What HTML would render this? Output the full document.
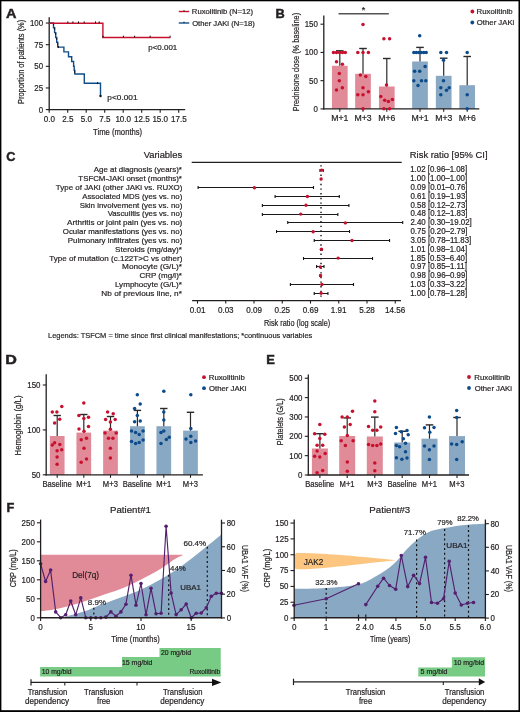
<!DOCTYPE html>
<html><head><meta charset="utf-8"><style>
html,body{margin:0;padding:0;background:#fff;width:520px;height:712px;overflow:hidden}
svg{display:block;will-change:transform}
text{font-family:"Liberation Sans",sans-serif;fill:#231f20;stroke:#231f20;stroke-width:0.2px}
</style></head><body>
<svg width="520" height="712" viewBox="0 0 520 712">
<rect width="520" height="712" fill="#fff"/>
<text x="6.14" y="17.80" textLength="10.46" lengthAdjust="spacingAndGlyphs" font-size="13.30" font-weight="bold" style="stroke-width:0.45px">A</text>
<line x1="49.20" y1="17.20" x2="49.20" y2="110.20" stroke="#231f20" stroke-width="1.3" />
<line x1="48.60" y1="109.60" x2="185.20" y2="109.60" stroke="#231f20" stroke-width="1.3" />
<line x1="45.80" y1="109.60" x2="49.20" y2="109.60" stroke="#231f20" stroke-width="1.1" />
<text x="38.69" y="112.50" textLength="4.40" lengthAdjust="spacingAndGlyphs" font-size="8.50">0</text>
<line x1="45.80" y1="87.96" x2="49.20" y2="87.96" stroke="#231f20" stroke-width="1.1" />
<text x="34.34" y="90.86" textLength="8.79" lengthAdjust="spacingAndGlyphs" font-size="8.50">25</text>
<line x1="45.80" y1="66.32" x2="49.20" y2="66.32" stroke="#231f20" stroke-width="1.1" />
<text x="34.30" y="69.22" textLength="8.79" lengthAdjust="spacingAndGlyphs" font-size="8.50">50</text>
<line x1="45.80" y1="44.68" x2="49.20" y2="44.68" stroke="#231f20" stroke-width="1.1" />
<text x="34.34" y="47.58" textLength="8.79" lengthAdjust="spacingAndGlyphs" font-size="8.50">75</text>
<line x1="45.80" y1="23.04" x2="49.20" y2="23.04" stroke="#231f20" stroke-width="1.1" />
<text x="29.91" y="25.94" textLength="13.19" lengthAdjust="spacingAndGlyphs" font-size="8.50">100</text>
<line x1="49.20" y1="109.60" x2="49.20" y2="112.80" stroke="#231f20" stroke-width="1.1" />
<text x="43.77" y="121.90" textLength="11.23" lengthAdjust="spacingAndGlyphs" font-size="8.50">0.0</text>
<line x1="67.70" y1="109.60" x2="67.70" y2="112.80" stroke="#231f20" stroke-width="1.1" />
<text x="62.25" y="121.90" textLength="11.23" lengthAdjust="spacingAndGlyphs" font-size="8.50">2.5</text>
<line x1="86.20" y1="109.60" x2="86.20" y2="112.80" stroke="#231f20" stroke-width="1.1" />
<text x="80.77" y="121.90" textLength="11.23" lengthAdjust="spacingAndGlyphs" font-size="8.50">5.0</text>
<line x1="104.70" y1="109.60" x2="104.70" y2="112.80" stroke="#231f20" stroke-width="1.1" />
<text x="99.25" y="121.90" textLength="11.23" lengthAdjust="spacingAndGlyphs" font-size="8.50">7.5</text>
<line x1="123.20" y1="109.60" x2="123.20" y2="112.80" stroke="#231f20" stroke-width="1.1" />
<text x="115.39" y="121.90" textLength="15.72" lengthAdjust="spacingAndGlyphs" font-size="8.50">10.0</text>
<line x1="141.70" y1="109.60" x2="141.70" y2="112.80" stroke="#231f20" stroke-width="1.1" />
<text x="133.91" y="121.90" textLength="15.72" lengthAdjust="spacingAndGlyphs" font-size="8.50">12.5</text>
<line x1="160.20" y1="109.60" x2="160.20" y2="112.80" stroke="#231f20" stroke-width="1.1" />
<text x="152.39" y="121.90" textLength="15.72" lengthAdjust="spacingAndGlyphs" font-size="8.50">15.0</text>
<line x1="178.70" y1="109.60" x2="178.70" y2="112.80" stroke="#231f20" stroke-width="1.1" />
<text x="170.91" y="121.90" textLength="15.72" lengthAdjust="spacingAndGlyphs" font-size="8.50">17.5</text>
<text x="93.05" y="134.80" textLength="49.14" lengthAdjust="spacingAndGlyphs" font-size="9.00">Time (months)</text>
<text transform="translate(24.20,103.40) rotate(-90)" x="-0.59" y="0" textLength="84.17" lengthAdjust="spacingAndGlyphs" font-size="8.80">Proportion of patients (%)</text>
<path d="M49.2,23.0 H53.5 V27.8 H54.6 V32.6 H55.7 V37.5 H56.7 V42.3 H57.7 V47.1 H63.9 V51.9 H68.5 V56.7 H71.7 V61.5 H73.6 V66.3 H74.2 V70.2 H74.8 V74.0 H84.3 V83.3 H100.5 V96.2" stroke="#0f4e88" fill="none" stroke-width="1.4" />
<line x1="53.50" y1="23.30" x2="53.50" y2="25.30" stroke="#111" stroke-width="1.0" />
<line x1="54.60" y1="27.80" x2="54.60" y2="29.80" stroke="#111" stroke-width="1.0" />
<line x1="55.70" y1="32.80" x2="55.70" y2="34.80" stroke="#111" stroke-width="1.0" />
<line x1="56.70" y1="37.80" x2="56.70" y2="39.80" stroke="#111" stroke-width="1.0" />
<line x1="57.70" y1="42.80" x2="57.70" y2="44.80" stroke="#111" stroke-width="1.0" />
<line x1="58.50" y1="45.90" x2="58.50" y2="47.90" stroke="#111" stroke-width="1.0" />
<line x1="97.60" y1="82.10" x2="97.60" y2="84.10" stroke="#111" stroke-width="1.0" />
<line x1="74.60" y1="70.80" x2="74.60" y2="72.80" stroke="#111" stroke-width="1.0" />
<circle cx="100.50" cy="96.00" r="1.2" fill="#111"/>
<path d="M49.2,23.2 H102.9 V37.5 H170.4" stroke="#c8102e" fill="none" stroke-width="1.4" />
<line x1="102.90" y1="35.80" x2="102.90" y2="37.60" stroke="#111" stroke-width="1.2" />
<line x1="67.80" y1="21.40" x2="67.80" y2="23.20" stroke="#111" stroke-width="1.0" />
<line x1="72.90" y1="21.40" x2="72.90" y2="23.20" stroke="#111" stroke-width="1.0" />
<line x1="78.50" y1="21.40" x2="78.50" y2="23.20" stroke="#111" stroke-width="1.0" />
<line x1="84.20" y1="21.40" x2="84.20" y2="23.20" stroke="#111" stroke-width="1.0" />
<line x1="95.50" y1="21.40" x2="95.50" y2="23.20" stroke="#111" stroke-width="1.0" />
<line x1="99.20" y1="21.40" x2="99.20" y2="23.20" stroke="#111" stroke-width="1.0" />
<line x1="123.40" y1="35.70" x2="123.40" y2="37.50" stroke="#111" stroke-width="1.0" />
<line x1="134.60" y1="35.70" x2="134.60" y2="37.50" stroke="#111" stroke-width="1.0" />
<line x1="150.20" y1="35.70" x2="150.20" y2="37.50" stroke="#111" stroke-width="1.0" />
<line x1="170.10" y1="35.70" x2="170.10" y2="37.50" stroke="#111" stroke-width="1.0" />
<text x="148.28" y="50.00" textLength="29.00" lengthAdjust="spacingAndGlyphs" font-size="7.60">p&lt;0.001</text>
<text x="107.36" y="100.00" textLength="30.13" lengthAdjust="spacingAndGlyphs" font-size="7.60">p&lt;0.001</text>
<line x1="178.75" y1="11.50" x2="189.25" y2="11.50" stroke="#c8102e" stroke-width="1.4" />
<line x1="184.00" y1="10.20" x2="184.00" y2="11.50" stroke="#111" stroke-width="1.0" />
<text x="191.89" y="13.80" textLength="61.08" lengthAdjust="spacingAndGlyphs" font-size="7.50">Ruxolitinib (N=12)</text>
<line x1="178.75" y1="23.00" x2="189.25" y2="23.00" stroke="#0f4e88" stroke-width="1.4" />
<line x1="184.00" y1="21.70" x2="184.00" y2="23.00" stroke="#111" stroke-width="1.0" />
<text x="192.16" y="25.50" textLength="62.57" lengthAdjust="spacingAndGlyphs" font-size="7.50">Other JAKi (N=18)</text>
<text x="275.47" y="17.90" textLength="9.23" lengthAdjust="spacingAndGlyphs" font-size="12.60" font-weight="bold" style="stroke-width:0.45px">B</text>
<rect x="331.95" y="65.80" width="15.7" height="43.00" fill="#e18a98"/>
<rect x="355.15" y="73.80" width="15.7" height="35.00" fill="#e18a98"/>
<rect x="378.95" y="86.50" width="15.7" height="22.30" fill="#e18a98"/>
<rect x="412.15" y="61.50" width="15.7" height="47.30" fill="#89a8c3"/>
<rect x="435.85" y="75.80" width="15.7" height="33.00" fill="#89a8c3"/>
<rect x="459.35" y="85.20" width="15.7" height="23.60" fill="#89a8c3"/>
<line x1="339.80" y1="65.80" x2="339.80" y2="50.80" stroke="#2a2a2a" stroke-width="1.2" />
<line x1="336.00" y1="50.80" x2="343.60" y2="50.80" stroke="#2a2a2a" stroke-width="1.4" />
<line x1="363.00" y1="73.80" x2="363.00" y2="48.50" stroke="#2a2a2a" stroke-width="1.2" />
<line x1="359.20" y1="48.50" x2="366.80" y2="48.50" stroke="#2a2a2a" stroke-width="1.4" />
<line x1="386.80" y1="86.50" x2="386.80" y2="58.50" stroke="#2a2a2a" stroke-width="1.2" />
<line x1="383.00" y1="58.50" x2="390.60" y2="58.50" stroke="#2a2a2a" stroke-width="1.4" />
<line x1="420.00" y1="61.50" x2="420.00" y2="47.40" stroke="#2a2a2a" stroke-width="1.2" />
<line x1="416.20" y1="47.40" x2="423.80" y2="47.40" stroke="#2a2a2a" stroke-width="1.4" />
<line x1="443.70" y1="75.80" x2="443.70" y2="58.20" stroke="#2a2a2a" stroke-width="1.2" />
<line x1="439.90" y1="58.20" x2="447.50" y2="58.20" stroke="#2a2a2a" stroke-width="1.4" />
<line x1="467.20" y1="85.20" x2="467.20" y2="56.50" stroke="#2a2a2a" stroke-width="1.2" />
<line x1="463.40" y1="56.50" x2="471.00" y2="56.50" stroke="#2a2a2a" stroke-width="1.4" />
<line x1="323.80" y1="15.40" x2="323.80" y2="109.50" stroke="#231f20" stroke-width="1.3" />
<line x1="323.10" y1="108.80" x2="479.30" y2="108.80" stroke="#231f20" stroke-width="1.3" />
<line x1="320.50" y1="108.90" x2="323.80" y2="108.90" stroke="#231f20" stroke-width="1.1" />
<text x="313.49" y="111.80" textLength="4.40" lengthAdjust="spacingAndGlyphs" font-size="8.50">0</text>
<line x1="320.50" y1="80.67" x2="323.80" y2="80.67" stroke="#231f20" stroke-width="1.1" />
<text x="309.10" y="83.57" textLength="8.79" lengthAdjust="spacingAndGlyphs" font-size="8.50">50</text>
<line x1="320.50" y1="52.43" x2="323.80" y2="52.43" stroke="#231f20" stroke-width="1.1" />
<text x="304.71" y="55.33" textLength="13.19" lengthAdjust="spacingAndGlyphs" font-size="8.50">100</text>
<line x1="320.50" y1="24.20" x2="323.80" y2="24.20" stroke="#231f20" stroke-width="1.1" />
<text x="304.71" y="27.10" textLength="13.19" lengthAdjust="spacingAndGlyphs" font-size="8.50">150</text>
<line x1="339.80" y1="108.80" x2="339.80" y2="111.80" stroke="#231f20" stroke-width="1.1" />
<text x="331.25" y="121.00" textLength="17.22" lengthAdjust="spacingAndGlyphs" font-size="8.20">M+1</text>
<line x1="363.00" y1="108.80" x2="363.00" y2="111.80" stroke="#231f20" stroke-width="1.1" />
<text x="354.45" y="121.00" textLength="17.17" lengthAdjust="spacingAndGlyphs" font-size="8.20">M+3</text>
<line x1="386.80" y1="108.80" x2="386.80" y2="111.80" stroke="#231f20" stroke-width="1.1" />
<text x="378.25" y="121.00" textLength="17.17" lengthAdjust="spacingAndGlyphs" font-size="8.20">M+6</text>
<line x1="420.00" y1="108.80" x2="420.00" y2="111.80" stroke="#231f20" stroke-width="1.1" />
<text x="411.45" y="121.00" textLength="17.22" lengthAdjust="spacingAndGlyphs" font-size="8.20">M+1</text>
<line x1="443.70" y1="108.80" x2="443.70" y2="111.80" stroke="#231f20" stroke-width="1.1" />
<text x="435.15" y="121.00" textLength="17.17" lengthAdjust="spacingAndGlyphs" font-size="8.20">M+3</text>
<line x1="467.20" y1="108.80" x2="467.20" y2="111.80" stroke="#231f20" stroke-width="1.1" />
<text x="458.65" y="121.00" textLength="17.17" lengthAdjust="spacingAndGlyphs" font-size="8.20">M+6</text>
<text transform="translate(299.00,110.70) rotate(-90)" x="-0.59" y="0" textLength="98.45" lengthAdjust="spacingAndGlyphs" font-size="8.90">Prednisone dose (% baseline)</text>
<line x1="338.50" y1="13.80" x2="388.80" y2="13.80" stroke="#555" stroke-width="1.6" />
<text x="361.75" y="12.60" textLength="3.50" lengthAdjust="spacingAndGlyphs" font-size="9.00">*</text>
<circle cx="333.50" cy="52.60" r="1.75" fill="#c8102e"/>
<circle cx="336.50" cy="52.60" r="1.75" fill="#c8102e"/>
<circle cx="339.50" cy="52.60" r="1.75" fill="#c8102e"/>
<circle cx="342.50" cy="52.60" r="1.75" fill="#c8102e"/>
<circle cx="345.30" cy="52.60" r="1.75" fill="#c8102e"/>
<circle cx="336.50" cy="61.80" r="1.75" fill="#c8102e"/>
<circle cx="342.40" cy="64.20" r="1.75" fill="#c8102e"/>
<circle cx="339.30" cy="73.50" r="1.75" fill="#c8102e"/>
<circle cx="339.30" cy="80.80" r="1.75" fill="#c8102e"/>
<circle cx="342.40" cy="87.70" r="1.75" fill="#c8102e"/>
<circle cx="336.50" cy="90.00" r="1.75" fill="#c8102e"/>
<circle cx="363.00" cy="24.60" r="1.75" fill="#c8102e"/>
<circle cx="357.80" cy="52.60" r="1.75" fill="#c8102e"/>
<circle cx="363.00" cy="52.60" r="1.75" fill="#c8102e"/>
<circle cx="368.40" cy="52.60" r="1.75" fill="#c8102e"/>
<circle cx="360.40" cy="75.10" r="1.75" fill="#c8102e"/>
<circle cx="365.80" cy="76.60" r="1.75" fill="#c8102e"/>
<circle cx="363.00" cy="87.70" r="1.75" fill="#c8102e"/>
<circle cx="357.80" cy="94.80" r="1.75" fill="#c8102e"/>
<circle cx="363.00" cy="94.80" r="1.75" fill="#c8102e"/>
<circle cx="368.40" cy="91.80" r="1.75" fill="#c8102e"/>
<circle cx="363.00" cy="108.80" r="1.75" fill="#c8102e"/>
<circle cx="383.90" cy="38.80" r="1.75" fill="#c8102e"/>
<circle cx="389.60" cy="38.80" r="1.75" fill="#c8102e"/>
<circle cx="386.50" cy="84.90" r="1.75" fill="#c8102e"/>
<circle cx="380.80" cy="96.60" r="1.75" fill="#c8102e"/>
<circle cx="384.70" cy="100.30" r="1.75" fill="#c8102e"/>
<circle cx="388.40" cy="101.50" r="1.75" fill="#c8102e"/>
<circle cx="392.40" cy="99.40" r="1.75" fill="#c8102e"/>
<circle cx="383.90" cy="108.80" r="1.75" fill="#c8102e"/>
<circle cx="389.60" cy="108.80" r="1.75" fill="#c8102e"/>
<circle cx="419.70" cy="35.80" r="1.75" fill="#0b4a8b"/>
<circle cx="413.80" cy="52.60" r="1.75" fill="#0b4a8b"/>
<circle cx="416.30" cy="52.60" r="1.75" fill="#0b4a8b"/>
<circle cx="418.80" cy="52.60" r="1.75" fill="#0b4a8b"/>
<circle cx="421.30" cy="52.60" r="1.75" fill="#0b4a8b"/>
<circle cx="423.80" cy="52.60" r="1.75" fill="#0b4a8b"/>
<circle cx="426.20" cy="52.60" r="1.75" fill="#0b4a8b"/>
<circle cx="425.10" cy="66.50" r="1.75" fill="#0b4a8b"/>
<circle cx="414.60" cy="71.20" r="1.75" fill="#0b4a8b"/>
<circle cx="419.70" cy="71.20" r="1.75" fill="#0b4a8b"/>
<circle cx="413.80" cy="80.80" r="1.75" fill="#0b4a8b"/>
<circle cx="421.50" cy="80.80" r="1.75" fill="#0b4a8b"/>
<circle cx="425.80" cy="80.80" r="1.75" fill="#0b4a8b"/>
<circle cx="418.00" cy="85.40" r="1.75" fill="#0b4a8b"/>
<circle cx="440.80" cy="52.60" r="1.75" fill="#0b4a8b"/>
<circle cx="446.50" cy="52.60" r="1.75" fill="#0b4a8b"/>
<circle cx="443.50" cy="60.30" r="1.75" fill="#0b4a8b"/>
<circle cx="443.50" cy="80.80" r="1.75" fill="#0b4a8b"/>
<circle cx="440.80" cy="87.70" r="1.75" fill="#0b4a8b"/>
<circle cx="449.20" cy="87.70" r="1.75" fill="#0b4a8b"/>
<circle cx="446.50" cy="90.20" r="1.75" fill="#0b4a8b"/>
<circle cx="440.80" cy="94.80" r="1.75" fill="#0b4a8b"/>
<circle cx="467.20" cy="52.60" r="1.75" fill="#0b4a8b"/>
<circle cx="467.20" cy="94.80" r="1.75" fill="#0b4a8b"/>
<circle cx="467.20" cy="108.80" r="1.75" fill="#0b4a8b"/>
<circle cx="472.40" cy="11.50" r="1.9" fill="#c8102e"/>
<text x="476.58" y="14.00" textLength="35.96" lengthAdjust="spacingAndGlyphs" font-size="7.40">Ruxolitinib</text>
<circle cx="472.30" cy="22.50" r="1.9" fill="#0b4a8b"/>
<text x="476.85" y="24.80" textLength="37.45" lengthAdjust="spacingAndGlyphs" font-size="7.40">Other JAKi</text>
<text x="6.19" y="160.80" textLength="9.15" lengthAdjust="spacingAndGlyphs" font-size="12.90" font-weight="bold" style="stroke-width:0.45px">C</text>
<text x="143.65" y="158.30" textLength="38.48" lengthAdjust="spacingAndGlyphs" font-size="9.60">Variables</text>
<line x1="191.70" y1="162.30" x2="401.70" y2="162.30" stroke="#231f20" stroke-width="1.3" />
<line x1="321.00" y1="165.20" x2="321.00" y2="300.00" stroke="#111" stroke-width="1.4" stroke-dasharray="1.4,3.25"/>
<text x="93.80" y="172.30" textLength="88.10" lengthAdjust="spacingAndGlyphs" font-size="8.00">Age at diagnosis (years)*</text>
<line x1="319.97" y1="170.50" x2="323.23" y2="170.50" stroke="#1a1a1a" stroke-width="1.0" />
<line x1="319.97" y1="169.00" x2="319.97" y2="172.00" stroke="#111" stroke-width="1.1" />
<line x1="323.23" y1="169.00" x2="323.23" y2="172.00" stroke="#111" stroke-width="1.1" />
<circle cx="321.65" cy="170.10" r="1.7" fill="#c8102e"/>
<text x="410.21" y="172.20" textLength="57.00" lengthAdjust="spacingAndGlyphs" font-size="8.30">1.02 [0.96–1.08]</text>
<text x="78.34" y="181.13" textLength="103.57" lengthAdjust="spacingAndGlyphs" font-size="8.00">TSFCM-JAKi onset (months)*</text>
<circle cx="321.10" cy="178.90" r="1.7" fill="#c8102e"/>
<text x="410.21" y="181.03" textLength="57.00" lengthAdjust="spacingAndGlyphs" font-size="8.30">1.00 [1.00–1.00]</text>
<text x="55.84" y="189.96" textLength="126.47" lengthAdjust="spacingAndGlyphs" font-size="8.00">Type of JAKi (other JAKi vs. RUXO)</text>
<line x1="198.12" y1="187.50" x2="313.50" y2="187.50" stroke="#1a1a1a" stroke-width="1.0" />
<line x1="198.12" y1="186.00" x2="198.12" y2="189.00" stroke="#111" stroke-width="1.1" />
<line x1="313.50" y1="186.00" x2="313.50" y2="189.00" stroke="#111" stroke-width="1.1" />
<circle cx="254.40" cy="187.70" r="1.7" fill="#c8102e"/>
<text x="410.48" y="189.86" textLength="57.00" lengthAdjust="spacingAndGlyphs" font-size="8.30">0.09 [0.01–0.76]</text>
<text x="82.20" y="198.79" textLength="100.09" lengthAdjust="spacingAndGlyphs" font-size="8.00">Associated MDS (yes vs. no)</text>
<line x1="275.10" y1="196.50" x2="339.31" y2="196.50" stroke="#1a1a1a" stroke-width="1.0" />
<line x1="275.10" y1="195.00" x2="275.10" y2="198.00" stroke="#111" stroke-width="1.1" />
<line x1="339.31" y1="195.00" x2="339.31" y2="198.00" stroke="#111" stroke-width="1.1" />
<circle cx="307.41" cy="196.50" r="1.7" fill="#c8102e"/>
<text x="410.48" y="198.69" textLength="57.00" lengthAdjust="spacingAndGlyphs" font-size="8.30">0.61 [0.19–1.93]</text>
<text x="79.64" y="207.62" textLength="102.67" lengthAdjust="spacingAndGlyphs" font-size="8.00">Skin involvement (yes vs. no)</text>
<line x1="262.37" y1="205.50" x2="348.92" y2="205.50" stroke="#1a1a1a" stroke-width="1.0" />
<line x1="262.37" y1="204.00" x2="262.37" y2="207.00" stroke="#111" stroke-width="1.1" />
<line x1="348.92" y1="204.00" x2="348.92" y2="207.00" stroke="#111" stroke-width="1.1" />
<circle cx="306.01" cy="205.30" r="1.7" fill="#c8102e"/>
<text x="410.48" y="207.52" textLength="57.00" lengthAdjust="spacingAndGlyphs" font-size="8.30">0.58 [0.12–2.73]</text>
<text x="107.66" y="216.45" textLength="74.65" lengthAdjust="spacingAndGlyphs" font-size="8.00">Vasculitis (yes vs. no)</text>
<line x1="262.37" y1="214.50" x2="337.84" y2="214.50" stroke="#1a1a1a" stroke-width="1.0" />
<line x1="262.37" y1="213.00" x2="262.37" y2="216.00" stroke="#111" stroke-width="1.1" />
<line x1="337.84" y1="213.00" x2="337.84" y2="216.00" stroke="#111" stroke-width="1.1" />
<circle cx="300.77" cy="214.10" r="1.7" fill="#c8102e"/>
<text x="410.48" y="216.35" textLength="57.00" lengthAdjust="spacingAndGlyphs" font-size="8.30">0.48 [0.12–1.83]</text>
<text x="67.10" y="225.28" textLength="115.21" lengthAdjust="spacingAndGlyphs" font-size="8.00">Arthritis or joint pain (yes vs. no)</text>
<line x1="287.75" y1="222.50" x2="402.69" y2="222.50" stroke="#1a1a1a" stroke-width="1.0" />
<line x1="287.75" y1="221.00" x2="287.75" y2="224.00" stroke="#111" stroke-width="1.1" />
<line x1="402.69" y1="221.00" x2="402.69" y2="224.00" stroke="#111" stroke-width="1.1" />
<circle cx="345.35" cy="222.90" r="1.7" fill="#c8102e"/>
<text x="410.41" y="225.18" textLength="61.38" lengthAdjust="spacingAndGlyphs" font-size="8.30">2.40 [0.30–19.02]</text>
<text x="62.74" y="234.11" textLength="119.55" lengthAdjust="spacingAndGlyphs" font-size="8.00">Ocular manifestations (yes vs. no)</text>
<line x1="276.52" y1="231.50" x2="349.52" y2="231.50" stroke="#1a1a1a" stroke-width="1.0" />
<line x1="276.52" y1="230.00" x2="276.52" y2="233.00" stroke="#111" stroke-width="1.1" />
<line x1="349.52" y1="230.00" x2="349.52" y2="233.00" stroke="#111" stroke-width="1.1" />
<circle cx="313.13" cy="231.70" r="1.7" fill="#c8102e"/>
<text x="410.48" y="234.01" textLength="57.00" lengthAdjust="spacingAndGlyphs" font-size="8.30">0.75 [0.20–2.79]</text>
<text x="67.77" y="242.94" textLength="114.55" lengthAdjust="spacingAndGlyphs" font-size="8.00">Pulmonary infiltrates (yes vs. no)</text>
<line x1="314.22" y1="240.50" x2="389.54" y2="240.50" stroke="#1a1a1a" stroke-width="1.0" />
<line x1="314.22" y1="239.00" x2="314.22" y2="242.00" stroke="#111" stroke-width="1.1" />
<line x1="389.54" y1="239.00" x2="389.54" y2="242.00" stroke="#111" stroke-width="1.1" />
<circle cx="351.99" cy="240.50" r="1.7" fill="#c8102e"/>
<text x="410.48" y="242.84" textLength="60.80" lengthAdjust="spacingAndGlyphs" font-size="8.30">3.05 [0.78–11.83]</text>
<text x="115.14" y="251.77" textLength="66.79" lengthAdjust="spacingAndGlyphs" font-size="8.00">Steroids (mg/day)*</text>
<line x1="320.54" y1="249.50" x2="322.19" y2="249.50" stroke="#1a1a1a" stroke-width="1.0" />
<line x1="320.54" y1="248.00" x2="320.54" y2="251.00" stroke="#111" stroke-width="1.1" />
<line x1="322.19" y1="248.00" x2="322.19" y2="251.00" stroke="#111" stroke-width="1.1" />
<circle cx="321.38" cy="249.30" r="1.7" fill="#c8102e"/>
<text x="410.21" y="251.67" textLength="57.00" lengthAdjust="spacingAndGlyphs" font-size="8.30">1.01 [0.98–1.04]</text>
<text x="49.24" y="260.60" textLength="133.09" lengthAdjust="spacingAndGlyphs" font-size="8.00">Type of mutation (c.122T&gt;C vs other)</text>
<line x1="303.51" y1="258.50" x2="372.52" y2="258.50" stroke="#1a1a1a" stroke-width="1.0" />
<line x1="303.51" y1="257.00" x2="303.51" y2="260.00" stroke="#111" stroke-width="1.1" />
<line x1="372.52" y1="257.00" x2="372.52" y2="260.00" stroke="#111" stroke-width="1.1" />
<circle cx="338.14" cy="258.10" r="1.7" fill="#c8102e"/>
<text x="410.21" y="260.50" textLength="57.00" lengthAdjust="spacingAndGlyphs" font-size="8.30">1.85 [0.53–6.40]</text>
<text x="122.14" y="269.43" textLength="59.78" lengthAdjust="spacingAndGlyphs" font-size="8.00">Monocyte (G/L)*</text>
<line x1="316.60" y1="266.50" x2="323.99" y2="266.50" stroke="#1a1a1a" stroke-width="1.0" />
<line x1="316.60" y1="265.00" x2="316.60" y2="268.00" stroke="#111" stroke-width="1.1" />
<line x1="323.99" y1="265.00" x2="323.99" y2="268.00" stroke="#111" stroke-width="1.1" />
<circle cx="320.26" cy="266.90" r="1.7" fill="#c8102e"/>
<text x="410.48" y="269.33" textLength="56.41" lengthAdjust="spacingAndGlyphs" font-size="8.30">0.97 [0.85–1.11]</text>
<text x="139.40" y="278.26" textLength="42.52" lengthAdjust="spacingAndGlyphs" font-size="8.00">CRP (mg/l)*</text>
<line x1="319.97" y1="275.50" x2="320.82" y2="275.50" stroke="#1a1a1a" stroke-width="1.0" />
<line x1="319.97" y1="274.00" x2="319.97" y2="277.00" stroke="#111" stroke-width="1.1" />
<line x1="320.82" y1="274.00" x2="320.82" y2="277.00" stroke="#111" stroke-width="1.1" />
<circle cx="320.54" cy="275.70" r="1.7" fill="#c8102e"/>
<text x="410.48" y="278.16" textLength="57.00" lengthAdjust="spacingAndGlyphs" font-size="8.30">0.98 [0.96–0.99]</text>
<text x="114.95" y="287.09" textLength="66.96" lengthAdjust="spacingAndGlyphs" font-size="8.00">Lymphocyte (G/L)*</text>
<line x1="290.39" y1="284.50" x2="353.49" y2="284.50" stroke="#1a1a1a" stroke-width="1.0" />
<line x1="290.39" y1="283.00" x2="290.39" y2="286.00" stroke="#111" stroke-width="1.1" />
<line x1="353.49" y1="283.00" x2="353.49" y2="286.00" stroke="#111" stroke-width="1.1" />
<circle cx="321.92" cy="284.50" r="1.7" fill="#c8102e"/>
<text x="410.21" y="286.99" textLength="57.00" lengthAdjust="spacingAndGlyphs" font-size="8.30">1.03 [0.33–3.22]</text>
<text x="101.34" y="295.92" textLength="80.57" lengthAdjust="spacingAndGlyphs" font-size="8.00">Nb of previous line, n*</text>
<line x1="314.22" y1="293.50" x2="327.94" y2="293.50" stroke="#1a1a1a" stroke-width="1.0" />
<line x1="314.22" y1="292.00" x2="314.22" y2="295.00" stroke="#111" stroke-width="1.1" />
<line x1="327.94" y1="292.00" x2="327.94" y2="295.00" stroke="#111" stroke-width="1.1" />
<circle cx="321.10" cy="293.30" r="1.7" fill="#c8102e"/>
<text x="410.21" y="295.82" textLength="57.00" lengthAdjust="spacingAndGlyphs" font-size="8.30">1.00 [0.78–1.28]</text>
<text x="409.85" y="158.30" textLength="77.71" lengthAdjust="spacingAndGlyphs" font-size="9.60">Risk ratio [95% CI]</text>
<line x1="192.10" y1="300.60" x2="401.00" y2="300.60" stroke="#231f20" stroke-width="1.3" />
<line x1="197.50" y1="300.60" x2="197.50" y2="303.60" stroke="#231f20" stroke-width="1.1" />
<text x="189.67" y="312.90" textLength="15.72" lengthAdjust="spacingAndGlyphs" font-size="8.50">0.01</text>
<line x1="225.75" y1="300.60" x2="225.75" y2="303.60" stroke="#231f20" stroke-width="1.1" />
<text x="217.90" y="312.90" textLength="15.72" lengthAdjust="spacingAndGlyphs" font-size="8.50">0.03</text>
<line x1="254.00" y1="300.60" x2="254.00" y2="303.60" stroke="#231f20" stroke-width="1.1" />
<text x="246.17" y="312.90" textLength="15.72" lengthAdjust="spacingAndGlyphs" font-size="8.50">0.09</text>
<line x1="282.25" y1="300.60" x2="282.25" y2="303.60" stroke="#231f20" stroke-width="1.1" />
<text x="274.40" y="312.90" textLength="15.72" lengthAdjust="spacingAndGlyphs" font-size="8.50">0.25</text>
<line x1="310.50" y1="300.60" x2="310.50" y2="303.60" stroke="#231f20" stroke-width="1.1" />
<text x="302.67" y="312.90" textLength="15.72" lengthAdjust="spacingAndGlyphs" font-size="8.50">0.69</text>
<line x1="338.75" y1="300.60" x2="338.75" y2="303.60" stroke="#231f20" stroke-width="1.1" />
<text x="330.78" y="312.90" textLength="15.72" lengthAdjust="spacingAndGlyphs" font-size="8.50">1.91</text>
<line x1="367.00" y1="300.60" x2="367.00" y2="303.60" stroke="#231f20" stroke-width="1.1" />
<text x="359.15" y="312.90" textLength="15.72" lengthAdjust="spacingAndGlyphs" font-size="8.50">5.28</text>
<line x1="395.25" y1="300.60" x2="395.25" y2="303.60" stroke="#231f20" stroke-width="1.1" />
<text x="385.01" y="312.90" textLength="20.21" lengthAdjust="spacingAndGlyphs" font-size="8.50">14.56</text>
<text x="264.02" y="325.50" textLength="66.15" lengthAdjust="spacingAndGlyphs" font-size="8.70">Risk ratio (log scale)</text>
<text x="48.00" y="338.40" textLength="264.26" lengthAdjust="spacingAndGlyphs" font-size="8.00">Legends: TSFCM = time since first clinical manifestations; *continuous variables</text>
<text x="5.25" y="363.80" textLength="11.63" lengthAdjust="spacingAndGlyphs" font-size="12.90" font-weight="bold" style="stroke-width:0.45px">D</text>
<rect x="49.85" y="436.00" width="14.7" height="38.80" fill="#e18a98"/>
<rect x="76.45" y="432.60" width="14.7" height="42.20" fill="#e18a98"/>
<rect x="103.15" y="430.60" width="14.7" height="44.20" fill="#e18a98"/>
<rect x="130.05" y="426.20" width="14.7" height="48.60" fill="#89a8c3"/>
<rect x="156.45" y="426.20" width="14.7" height="48.60" fill="#89a8c3"/>
<rect x="183.15" y="430.60" width="14.7" height="44.20" fill="#89a8c3"/>
<line x1="57.20" y1="436.00" x2="57.20" y2="415.50" stroke="#2a2a2a" stroke-width="1.2" />
<line x1="53.50" y1="415.50" x2="60.90" y2="415.50" stroke="#2a2a2a" stroke-width="1.4" />
<line x1="83.80" y1="432.60" x2="83.80" y2="414.50" stroke="#2a2a2a" stroke-width="1.2" />
<line x1="80.10" y1="414.50" x2="87.50" y2="414.50" stroke="#2a2a2a" stroke-width="1.4" />
<line x1="110.50" y1="430.60" x2="110.50" y2="416.50" stroke="#2a2a2a" stroke-width="1.2" />
<line x1="106.80" y1="416.50" x2="114.20" y2="416.50" stroke="#2a2a2a" stroke-width="1.4" />
<line x1="137.40" y1="426.20" x2="137.40" y2="410.40" stroke="#2a2a2a" stroke-width="1.2" />
<line x1="133.70" y1="410.40" x2="141.10" y2="410.40" stroke="#2a2a2a" stroke-width="1.4" />
<line x1="163.80" y1="426.20" x2="163.80" y2="408.50" stroke="#2a2a2a" stroke-width="1.2" />
<line x1="160.10" y1="408.50" x2="167.50" y2="408.50" stroke="#2a2a2a" stroke-width="1.4" />
<line x1="190.50" y1="430.60" x2="190.50" y2="412.30" stroke="#2a2a2a" stroke-width="1.2" />
<line x1="186.80" y1="412.30" x2="194.20" y2="412.30" stroke="#2a2a2a" stroke-width="1.4" />
<line x1="46.20" y1="374.20" x2="46.20" y2="475.40" stroke="#231f20" stroke-width="1.3" />
<line x1="45.60" y1="474.80" x2="202.90" y2="474.80" stroke="#231f20" stroke-width="1.3" />
<line x1="42.80" y1="474.80" x2="46.20" y2="474.80" stroke="#231f20" stroke-width="1.1" />
<text x="31.70" y="477.70" textLength="8.79" lengthAdjust="spacingAndGlyphs" font-size="8.50">50</text>
<line x1="42.80" y1="429.90" x2="46.20" y2="429.90" stroke="#231f20" stroke-width="1.1" />
<text x="27.31" y="432.80" textLength="13.19" lengthAdjust="spacingAndGlyphs" font-size="8.50">100</text>
<line x1="42.80" y1="385.00" x2="46.20" y2="385.00" stroke="#231f20" stroke-width="1.1" />
<text x="27.31" y="387.90" textLength="13.19" lengthAdjust="spacingAndGlyphs" font-size="8.50">150</text>
<line x1="57.20" y1="474.80" x2="57.20" y2="477.80" stroke="#231f20" stroke-width="1.1" />
<text x="42.44" y="487.20" textLength="29.25" lengthAdjust="spacingAndGlyphs" font-size="8.20">Baseline</text>
<line x1="83.80" y1="474.80" x2="83.80" y2="477.80" stroke="#231f20" stroke-width="1.1" />
<text x="76.15" y="487.20" textLength="15.05" lengthAdjust="spacingAndGlyphs" font-size="8.20">M+1</text>
<line x1="110.50" y1="474.80" x2="110.50" y2="477.80" stroke="#231f20" stroke-width="1.1" />
<text x="102.84" y="487.20" textLength="15.05" lengthAdjust="spacingAndGlyphs" font-size="8.20">M+3</text>
<line x1="137.40" y1="474.80" x2="137.40" y2="477.80" stroke="#231f20" stroke-width="1.1" />
<text x="122.64" y="487.20" textLength="29.25" lengthAdjust="spacingAndGlyphs" font-size="8.20">Baseline</text>
<line x1="163.80" y1="474.80" x2="163.80" y2="477.80" stroke="#231f20" stroke-width="1.1" />
<text x="156.15" y="487.20" textLength="15.05" lengthAdjust="spacingAndGlyphs" font-size="8.20">M+1</text>
<line x1="190.50" y1="474.80" x2="190.50" y2="477.80" stroke="#231f20" stroke-width="1.1" />
<text x="182.84" y="487.20" textLength="15.05" lengthAdjust="spacingAndGlyphs" font-size="8.20">M+3</text>
<text transform="translate(21.30,454.90) rotate(-90)" x="-0.63" y="0" textLength="60.10" lengthAdjust="spacingAndGlyphs" font-size="8.80">Hemoglobin (g/L)</text>
<circle cx="61.80" cy="406.50" r="1.75" fill="#c8102e"/>
<circle cx="52.30" cy="411.90" r="1.75" fill="#c8102e"/>
<circle cx="56.90" cy="411.90" r="1.75" fill="#c8102e"/>
<circle cx="59.70" cy="419.20" r="1.75" fill="#c8102e"/>
<circle cx="54.60" cy="423.00" r="1.75" fill="#c8102e"/>
<circle cx="52.30" cy="445.00" r="1.75" fill="#c8102e"/>
<circle cx="54.60" cy="442.70" r="1.75" fill="#c8102e"/>
<circle cx="59.80" cy="444.40" r="1.75" fill="#c8102e"/>
<circle cx="57.10" cy="450.80" r="1.75" fill="#c8102e"/>
<circle cx="61.70" cy="449.80" r="1.75" fill="#c8102e"/>
<circle cx="57.10" cy="457.10" r="1.75" fill="#c8102e"/>
<circle cx="57.10" cy="464.20" r="1.75" fill="#c8102e"/>
<circle cx="83.80" cy="403.00" r="1.75" fill="#c8102e"/>
<circle cx="78.90" cy="415.50" r="1.75" fill="#c8102e"/>
<circle cx="83.80" cy="418.50" r="1.75" fill="#c8102e"/>
<circle cx="88.50" cy="417.30" r="1.75" fill="#c8102e"/>
<circle cx="88.50" cy="426.50" r="1.75" fill="#c8102e"/>
<circle cx="79.00" cy="429.00" r="1.75" fill="#c8102e"/>
<circle cx="84.00" cy="431.20" r="1.75" fill="#c8102e"/>
<circle cx="81.20" cy="439.80" r="1.75" fill="#c8102e"/>
<circle cx="86.50" cy="438.30" r="1.75" fill="#c8102e"/>
<circle cx="84.00" cy="448.30" r="1.75" fill="#c8102e"/>
<circle cx="81.20" cy="462.30" r="1.75" fill="#c8102e"/>
<circle cx="86.50" cy="459.00" r="1.75" fill="#c8102e"/>
<circle cx="105.00" cy="432.90" r="1.75" fill="#c8102e"/>
<circle cx="110.40" cy="429.20" r="1.75" fill="#c8102e"/>
<circle cx="116.20" cy="432.90" r="1.75" fill="#c8102e"/>
<circle cx="108.50" cy="438.30" r="1.75" fill="#c8102e"/>
<circle cx="112.90" cy="438.30" r="1.75" fill="#c8102e"/>
<circle cx="110.40" cy="448.30" r="1.75" fill="#c8102e"/>
<circle cx="110.40" cy="457.90" r="1.75" fill="#c8102e"/>
<circle cx="110.40" cy="422.10" r="1.75" fill="#c8102e"/>
<circle cx="105.60" cy="419.40" r="1.75" fill="#c8102e"/>
<circle cx="115.20" cy="419.40" r="1.75" fill="#c8102e"/>
<circle cx="107.60" cy="412.00" r="1.75" fill="#c8102e"/>
<circle cx="113.20" cy="413.80" r="1.75" fill="#c8102e"/>
<circle cx="137.30" cy="394.80" r="1.75" fill="#0b4a8b"/>
<circle cx="140.20" cy="404.00" r="1.75" fill="#0b4a8b"/>
<circle cx="134.60" cy="408.50" r="1.75" fill="#0b4a8b"/>
<circle cx="137.30" cy="415.60" r="1.75" fill="#0b4a8b"/>
<circle cx="134.60" cy="421.70" r="1.75" fill="#0b4a8b"/>
<circle cx="140.20" cy="421.00" r="1.75" fill="#0b4a8b"/>
<circle cx="131.50" cy="431.00" r="1.75" fill="#0b4a8b"/>
<circle cx="135.60" cy="432.50" r="1.75" fill="#0b4a8b"/>
<circle cx="139.20" cy="434.40" r="1.75" fill="#0b4a8b"/>
<circle cx="143.10" cy="431.00" r="1.75" fill="#0b4a8b"/>
<circle cx="131.50" cy="441.50" r="1.75" fill="#0b4a8b"/>
<circle cx="135.60" cy="443.50" r="1.75" fill="#0b4a8b"/>
<circle cx="139.20" cy="442.50" r="1.75" fill="#0b4a8b"/>
<circle cx="143.10" cy="440.00" r="1.75" fill="#0b4a8b"/>
<circle cx="163.80" cy="391.20" r="1.75" fill="#0b4a8b"/>
<circle cx="163.80" cy="412.10" r="1.75" fill="#0b4a8b"/>
<circle cx="163.80" cy="420.00" r="1.75" fill="#0b4a8b"/>
<circle cx="161.00" cy="432.50" r="1.75" fill="#0b4a8b"/>
<circle cx="163.80" cy="431.00" r="1.75" fill="#0b4a8b"/>
<circle cx="161.00" cy="443.50" r="1.75" fill="#0b4a8b"/>
<circle cx="166.30" cy="439.60" r="1.75" fill="#0b4a8b"/>
<circle cx="169.20" cy="437.30" r="1.75" fill="#0b4a8b"/>
<circle cx="190.80" cy="394.80" r="1.75" fill="#0b4a8b"/>
<circle cx="190.80" cy="428.50" r="1.75" fill="#0b4a8b"/>
<circle cx="190.80" cy="436.30" r="1.75" fill="#0b4a8b"/>
<circle cx="186.00" cy="439.00" r="1.75" fill="#0b4a8b"/>
<circle cx="190.80" cy="442.50" r="1.75" fill="#0b4a8b"/>
<circle cx="195.60" cy="441.00" r="1.75" fill="#0b4a8b"/>
<circle cx="204.00" cy="377.20" r="1.9" fill="#c8102e"/>
<text x="208.78" y="379.80" textLength="35.96" lengthAdjust="spacingAndGlyphs" font-size="7.40">Ruxolitinib</text>
<circle cx="204.00" cy="388.20" r="1.9" fill="#0b4a8b"/>
<text x="209.05" y="390.80" textLength="37.45" lengthAdjust="spacingAndGlyphs" font-size="7.40">Other JAKi</text>
<text x="266.16" y="364.20" textLength="8.62" lengthAdjust="spacingAndGlyphs" font-size="12.70" font-weight="bold" style="stroke-width:0.45px">E</text>
<rect x="311.90" y="448.50" width="16.0" height="26.50" fill="#e18a98"/>
<rect x="339.20" y="436.00" width="16.0" height="39.00" fill="#e18a98"/>
<rect x="366.80" y="436.50" width="16.0" height="38.50" fill="#e18a98"/>
<rect x="394.20" y="442.50" width="16.0" height="32.50" fill="#89a8c3"/>
<rect x="421.50" y="438.70" width="16.0" height="36.30" fill="#89a8c3"/>
<rect x="449.00" y="436.10" width="16.0" height="38.90" fill="#89a8c3"/>
<line x1="319.90" y1="448.50" x2="319.90" y2="433.70" stroke="#2a2a2a" stroke-width="1.2" />
<line x1="316.10" y1="433.70" x2="323.70" y2="433.70" stroke="#2a2a2a" stroke-width="1.4" />
<line x1="347.20" y1="436.00" x2="347.20" y2="417.90" stroke="#2a2a2a" stroke-width="1.2" />
<line x1="343.40" y1="417.90" x2="351.00" y2="417.90" stroke="#2a2a2a" stroke-width="1.4" />
<line x1="374.80" y1="436.50" x2="374.80" y2="417.10" stroke="#2a2a2a" stroke-width="1.2" />
<line x1="371.00" y1="417.10" x2="378.60" y2="417.10" stroke="#2a2a2a" stroke-width="1.4" />
<line x1="402.20" y1="442.50" x2="402.20" y2="431.30" stroke="#2a2a2a" stroke-width="1.2" />
<line x1="398.40" y1="431.30" x2="406.00" y2="431.30" stroke="#2a2a2a" stroke-width="1.4" />
<line x1="429.50" y1="438.70" x2="429.50" y2="424.90" stroke="#2a2a2a" stroke-width="1.2" />
<line x1="425.70" y1="424.90" x2="433.30" y2="424.90" stroke="#2a2a2a" stroke-width="1.4" />
<line x1="457.00" y1="436.10" x2="457.00" y2="417.50" stroke="#2a2a2a" stroke-width="1.2" />
<line x1="453.20" y1="417.50" x2="460.80" y2="417.50" stroke="#2a2a2a" stroke-width="1.4" />
<line x1="308.30" y1="374.40" x2="308.30" y2="475.60" stroke="#231f20" stroke-width="1.3" />
<line x1="307.70" y1="475.00" x2="469.00" y2="475.00" stroke="#231f20" stroke-width="1.3" />
<line x1="304.80" y1="475.00" x2="308.30" y2="475.00" stroke="#231f20" stroke-width="1.1" />
<text x="298.09" y="477.90" textLength="4.40" lengthAdjust="spacingAndGlyphs" font-size="8.50">0</text>
<line x1="304.80" y1="455.65" x2="308.30" y2="455.65" stroke="#231f20" stroke-width="1.1" />
<text x="289.31" y="458.55" textLength="13.19" lengthAdjust="spacingAndGlyphs" font-size="8.50">100</text>
<line x1="304.80" y1="436.30" x2="308.30" y2="436.30" stroke="#231f20" stroke-width="1.1" />
<text x="289.31" y="439.20" textLength="13.19" lengthAdjust="spacingAndGlyphs" font-size="8.50">200</text>
<line x1="304.80" y1="416.95" x2="308.30" y2="416.95" stroke="#231f20" stroke-width="1.1" />
<text x="289.31" y="419.85" textLength="13.19" lengthAdjust="spacingAndGlyphs" font-size="8.50">300</text>
<line x1="304.80" y1="397.60" x2="308.30" y2="397.60" stroke="#231f20" stroke-width="1.1" />
<text x="289.31" y="400.50" textLength="13.19" lengthAdjust="spacingAndGlyphs" font-size="8.50">400</text>
<line x1="304.80" y1="378.25" x2="308.30" y2="378.25" stroke="#231f20" stroke-width="1.1" />
<text x="289.31" y="381.15" textLength="13.19" lengthAdjust="spacingAndGlyphs" font-size="8.50">500</text>
<line x1="319.90" y1="475.00" x2="319.90" y2="478.00" stroke="#231f20" stroke-width="1.1" />
<text x="305.14" y="487.20" textLength="29.25" lengthAdjust="spacingAndGlyphs" font-size="8.20">Baseline</text>
<line x1="347.20" y1="475.00" x2="347.20" y2="478.00" stroke="#231f20" stroke-width="1.1" />
<text x="339.55" y="487.20" textLength="15.05" lengthAdjust="spacingAndGlyphs" font-size="8.20">M+1</text>
<line x1="374.80" y1="475.00" x2="374.80" y2="478.00" stroke="#231f20" stroke-width="1.1" />
<text x="367.14" y="487.20" textLength="15.05" lengthAdjust="spacingAndGlyphs" font-size="8.20">M+3</text>
<line x1="402.20" y1="475.00" x2="402.20" y2="478.00" stroke="#231f20" stroke-width="1.1" />
<text x="387.44" y="487.20" textLength="29.25" lengthAdjust="spacingAndGlyphs" font-size="8.20">Baseline</text>
<line x1="429.50" y1="475.00" x2="429.50" y2="478.00" stroke="#231f20" stroke-width="1.1" />
<text x="421.85" y="487.20" textLength="15.05" lengthAdjust="spacingAndGlyphs" font-size="8.20">M+1</text>
<line x1="457.00" y1="475.00" x2="457.00" y2="478.00" stroke="#231f20" stroke-width="1.1" />
<text x="449.34" y="487.20" textLength="15.05" lengthAdjust="spacingAndGlyphs" font-size="8.20">M+3</text>
<text transform="translate(282.80,444.60) rotate(-90)" x="-0.59" y="0" textLength="46.84" lengthAdjust="spacingAndGlyphs" font-size="8.80">Platelets (G/L)</text>
<circle cx="319.80" cy="424.40" r="1.75" fill="#c8102e"/>
<circle cx="314.60" cy="433.70" r="1.75" fill="#c8102e"/>
<circle cx="324.80" cy="434.20" r="1.75" fill="#c8102e"/>
<circle cx="319.80" cy="438.50" r="1.75" fill="#c8102e"/>
<circle cx="317.10" cy="445.20" r="1.75" fill="#c8102e"/>
<circle cx="322.70" cy="445.20" r="1.75" fill="#c8102e"/>
<circle cx="317.10" cy="451.00" r="1.75" fill="#c8102e"/>
<circle cx="314.60" cy="456.20" r="1.75" fill="#c8102e"/>
<circle cx="319.80" cy="457.10" r="1.75" fill="#c8102e"/>
<circle cx="325.20" cy="453.50" r="1.75" fill="#c8102e"/>
<circle cx="317.10" cy="472.70" r="1.75" fill="#c8102e"/>
<circle cx="322.70" cy="470.60" r="1.75" fill="#c8102e"/>
<circle cx="352.50" cy="411.20" r="1.75" fill="#c8102e"/>
<circle cx="342.10" cy="416.90" r="1.75" fill="#c8102e"/>
<circle cx="347.30" cy="416.90" r="1.75" fill="#c8102e"/>
<circle cx="344.40" cy="426.90" r="1.75" fill="#c8102e"/>
<circle cx="350.20" cy="424.60" r="1.75" fill="#c8102e"/>
<circle cx="347.30" cy="435.60" r="1.75" fill="#c8102e"/>
<circle cx="341.20" cy="440.80" r="1.75" fill="#c8102e"/>
<circle cx="353.10" cy="440.80" r="1.75" fill="#c8102e"/>
<circle cx="345.40" cy="445.60" r="1.75" fill="#c8102e"/>
<circle cx="347.30" cy="461.90" r="1.75" fill="#c8102e"/>
<circle cx="347.30" cy="471.20" r="1.75" fill="#c8102e"/>
<circle cx="374.80" cy="401.00" r="1.75" fill="#c8102e"/>
<circle cx="374.80" cy="411.80" r="1.75" fill="#c8102e"/>
<circle cx="368.50" cy="426.60" r="1.75" fill="#c8102e"/>
<circle cx="380.70" cy="427.00" r="1.75" fill="#c8102e"/>
<circle cx="372.70" cy="430.20" r="1.75" fill="#c8102e"/>
<circle cx="376.90" cy="430.20" r="1.75" fill="#c8102e"/>
<circle cx="368.50" cy="444.60" r="1.75" fill="#c8102e"/>
<circle cx="372.70" cy="445.40" r="1.75" fill="#c8102e"/>
<circle cx="376.90" cy="445.40" r="1.75" fill="#c8102e"/>
<circle cx="380.70" cy="443.90" r="1.75" fill="#c8102e"/>
<circle cx="374.80" cy="463.00" r="1.75" fill="#c8102e"/>
<circle cx="374.80" cy="470.80" r="1.75" fill="#c8102e"/>
<circle cx="396.40" cy="427.40" r="1.75" fill="#0b4a8b"/>
<circle cx="401.30" cy="431.70" r="1.75" fill="#0b4a8b"/>
<circle cx="407.00" cy="430.60" r="1.75" fill="#0b4a8b"/>
<circle cx="395.50" cy="433.40" r="1.75" fill="#0b4a8b"/>
<circle cx="408.20" cy="434.80" r="1.75" fill="#0b4a8b"/>
<circle cx="403.40" cy="438.70" r="1.75" fill="#0b4a8b"/>
<circle cx="396.40" cy="445.40" r="1.75" fill="#0b4a8b"/>
<circle cx="399.60" cy="446.70" r="1.75" fill="#0b4a8b"/>
<circle cx="405.50" cy="443.30" r="1.75" fill="#0b4a8b"/>
<circle cx="405.50" cy="451.80" r="1.75" fill="#0b4a8b"/>
<circle cx="396.40" cy="457.70" r="1.75" fill="#0b4a8b"/>
<circle cx="401.90" cy="459.20" r="1.75" fill="#0b4a8b"/>
<circle cx="407.00" cy="458.10" r="1.75" fill="#0b4a8b"/>
<circle cx="429.40" cy="416.90" r="1.75" fill="#0b4a8b"/>
<circle cx="424.50" cy="427.70" r="1.75" fill="#0b4a8b"/>
<circle cx="429.80" cy="432.30" r="1.75" fill="#0b4a8b"/>
<circle cx="434.00" cy="427.40" r="1.75" fill="#0b4a8b"/>
<circle cx="424.50" cy="446.10" r="1.75" fill="#0b4a8b"/>
<circle cx="434.00" cy="446.10" r="1.75" fill="#0b4a8b"/>
<circle cx="429.40" cy="449.70" r="1.75" fill="#0b4a8b"/>
<circle cx="429.40" cy="459.40" r="1.75" fill="#0b4a8b"/>
<circle cx="456.70" cy="410.50" r="1.75" fill="#0b4a8b"/>
<circle cx="456.70" cy="417.50" r="1.75" fill="#0b4a8b"/>
<circle cx="451.60" cy="443.90" r="1.75" fill="#0b4a8b"/>
<circle cx="456.70" cy="444.60" r="1.75" fill="#0b4a8b"/>
<circle cx="462.20" cy="441.80" r="1.75" fill="#0b4a8b"/>
<circle cx="456.70" cy="459.40" r="1.75" fill="#0b4a8b"/>
<circle cx="469.00" cy="377.00" r="1.9" fill="#c8102e"/>
<text x="474.38" y="379.60" textLength="35.96" lengthAdjust="spacingAndGlyphs" font-size="7.40">Ruxolitinib</text>
<circle cx="469.00" cy="388.00" r="1.9" fill="#0b4a8b"/>
<text x="474.65" y="390.60" textLength="37.35" lengthAdjust="spacingAndGlyphs" font-size="7.40">Other JAKi</text>
<text x="6.47" y="511.90" textLength="7.79" lengthAdjust="spacingAndGlyphs" font-size="12.20" font-weight="bold" style="stroke-width:0.45px">F</text>
<path d="M40.6,554.8 L183.0,554.8 L183.00,555.00 C181.58,555.72 178.27,556.97 174.50,559.30 C170.73,561.63 166.12,565.57 160.40,569.00 C154.68,572.43 146.93,576.53 140.20,579.90 C133.47,583.27 126.45,586.62 120.00,589.20 C113.55,591.78 107.13,593.47 101.50,595.40 C95.87,597.33 91.32,599.13 86.20,600.80 C81.08,602.47 75.93,604.00 70.80,605.40 C65.67,606.80 60.43,608.23 55.40,609.20 C50.37,610.17 43.07,610.87 40.60,611.20 Z" stroke="none" fill="#e18a98" stroke-width="1.0" />
<path d="M61.50,617.80 C65.62,616.63 79.53,613.00 86.20,610.80 C92.87,608.60 95.87,606.78 101.50,604.60 C107.13,602.42 113.55,600.13 120.00,597.70 C126.45,595.27 133.47,593.03 140.20,590.00 C146.93,586.97 153.67,583.37 160.40,579.50 C167.13,575.63 173.87,571.50 180.60,566.80 C187.33,562.10 193.98,556.67 200.80,551.30 C207.62,545.93 218.05,537.38 221.50,534.60 L221.5,617.8 Z" stroke="none" fill="#89a8c3" stroke-width="1.0" />
<line x1="93.80" y1="607.70" x2="93.80" y2="617.80" stroke="#111" stroke-width="1.2" stroke-dasharray="2,2.75"/>
<line x1="168.70" y1="574.80" x2="168.70" y2="617.80" stroke="#111" stroke-width="1.2" stroke-dasharray="2,2.75"/>
<line x1="207.30" y1="546.80" x2="207.30" y2="617.80" stroke="#111" stroke-width="1.2" stroke-dasharray="2,2.75"/>
<path d="M40.6,563.8 L45.6,581.5 L50.6,570.0 L55.7,611.9 L60.7,617.7 L65.7,614.8 L70.7,601.0 L75.7,614.8 L80.8,597.9 L85.8,617.7 L90.8,617.7 L95.8,617.7 L100.8,617.7 L105.9,617.1 L110.9,611.9 L115.9,616.2 L120.9,611.9 L125.9,604.2 L131.0,575.2 L136.0,605.2 L141.0,583.5 L146.0,614.8 L151.0,588.3 L156.1,613.7 L161.1,613.3 L166.1,526.3 L171.1,593.1 L176.1,614.6 L181.2,609.8 L186.2,604.0 L191.2,617.7 L196.2,613.3 L201.2,613.0 L206.3,607.7 L211.3,596.3 L216.3,593.3 L221.3,593.3" stroke="#53206f" fill="none" stroke-width="1.15" stroke-linejoin="round"/>
<circle cx="40.60" cy="563.80" r="1.8" fill="#53206f"/>
<circle cx="45.62" cy="581.50" r="1.8" fill="#53206f"/>
<circle cx="50.64" cy="570.00" r="1.8" fill="#53206f"/>
<circle cx="55.66" cy="611.90" r="1.8" fill="#53206f"/>
<circle cx="60.68" cy="617.70" r="1.8" fill="#53206f"/>
<circle cx="65.70" cy="614.80" r="1.8" fill="#53206f"/>
<circle cx="70.72" cy="601.00" r="1.8" fill="#53206f"/>
<circle cx="75.74" cy="614.80" r="1.8" fill="#53206f"/>
<circle cx="80.76" cy="597.90" r="1.8" fill="#53206f"/>
<circle cx="85.78" cy="617.70" r="1.8" fill="#53206f"/>
<circle cx="90.80" cy="617.70" r="1.8" fill="#53206f"/>
<circle cx="95.82" cy="617.70" r="1.8" fill="#53206f"/>
<circle cx="100.84" cy="617.70" r="1.8" fill="#53206f"/>
<circle cx="105.86" cy="617.10" r="1.8" fill="#53206f"/>
<circle cx="110.88" cy="611.90" r="1.8" fill="#53206f"/>
<circle cx="115.90" cy="616.20" r="1.8" fill="#53206f"/>
<circle cx="120.92" cy="611.90" r="1.8" fill="#53206f"/>
<circle cx="125.94" cy="604.20" r="1.8" fill="#53206f"/>
<circle cx="130.96" cy="575.20" r="1.8" fill="#53206f"/>
<circle cx="135.98" cy="605.20" r="1.8" fill="#53206f"/>
<circle cx="141.00" cy="583.50" r="1.8" fill="#53206f"/>
<circle cx="146.02" cy="614.80" r="1.8" fill="#53206f"/>
<circle cx="151.04" cy="588.30" r="1.8" fill="#53206f"/>
<circle cx="156.06" cy="613.70" r="1.8" fill="#53206f"/>
<circle cx="161.08" cy="613.30" r="1.8" fill="#53206f"/>
<circle cx="166.10" cy="526.30" r="1.8" fill="#53206f"/>
<circle cx="171.12" cy="593.10" r="1.8" fill="#53206f"/>
<circle cx="176.14" cy="614.60" r="1.8" fill="#53206f"/>
<circle cx="181.16" cy="609.80" r="1.8" fill="#53206f"/>
<circle cx="186.18" cy="604.00" r="1.8" fill="#53206f"/>
<circle cx="191.20" cy="617.70" r="1.8" fill="#53206f"/>
<circle cx="196.22" cy="613.30" r="1.8" fill="#53206f"/>
<circle cx="201.24" cy="613.00" r="1.8" fill="#53206f"/>
<circle cx="206.26" cy="607.70" r="1.8" fill="#53206f"/>
<circle cx="211.28" cy="596.30" r="1.8" fill="#53206f"/>
<circle cx="216.30" cy="593.30" r="1.8" fill="#53206f"/>
<circle cx="221.32" cy="593.30" r="1.8" fill="#53206f"/>
<line x1="40.60" y1="519.60" x2="40.60" y2="618.50" stroke="#231f20" stroke-width="1.3" />
<line x1="221.50" y1="519.70" x2="221.50" y2="618.50" stroke="#231f20" stroke-width="1.3" />
<line x1="40.00" y1="617.80" x2="222.10" y2="617.80" stroke="#231f20" stroke-width="1.5" />
<line x1="36.90" y1="617.80" x2="40.60" y2="617.80" stroke="#231f20" stroke-width="1.1" />
<text x="30.39" y="620.70" textLength="4.40" lengthAdjust="spacingAndGlyphs" font-size="8.50">0</text>
<line x1="36.90" y1="598.80" x2="40.60" y2="598.80" stroke="#231f20" stroke-width="1.1" />
<text x="26.00" y="601.70" textLength="8.79" lengthAdjust="spacingAndGlyphs" font-size="8.50">50</text>
<line x1="36.90" y1="579.80" x2="40.60" y2="579.80" stroke="#231f20" stroke-width="1.1" />
<text x="21.61" y="582.70" textLength="13.19" lengthAdjust="spacingAndGlyphs" font-size="8.50">100</text>
<line x1="36.90" y1="560.80" x2="40.60" y2="560.80" stroke="#231f20" stroke-width="1.1" />
<text x="21.61" y="563.70" textLength="13.19" lengthAdjust="spacingAndGlyphs" font-size="8.50">150</text>
<line x1="36.90" y1="541.80" x2="40.60" y2="541.80" stroke="#231f20" stroke-width="1.1" />
<text x="21.61" y="544.70" textLength="13.19" lengthAdjust="spacingAndGlyphs" font-size="8.50">200</text>
<line x1="36.90" y1="522.80" x2="40.60" y2="522.80" stroke="#231f20" stroke-width="1.1" />
<text x="21.61" y="525.70" textLength="13.19" lengthAdjust="spacingAndGlyphs" font-size="8.50">250</text>
<line x1="221.50" y1="617.90" x2="225.00" y2="617.90" stroke="#231f20" stroke-width="1.1" />
<text x="226.68" y="620.80" textLength="4.40" lengthAdjust="spacingAndGlyphs" font-size="8.50">0</text>
<line x1="221.50" y1="594.18" x2="225.00" y2="594.18" stroke="#231f20" stroke-width="1.1" />
<text x="226.60" y="597.08" textLength="8.79" lengthAdjust="spacingAndGlyphs" font-size="8.50">20</text>
<line x1="221.50" y1="570.46" x2="225.00" y2="570.46" stroke="#231f20" stroke-width="1.1" />
<text x="226.84" y="573.36" textLength="8.79" lengthAdjust="spacingAndGlyphs" font-size="8.50">40</text>
<line x1="221.50" y1="546.74" x2="225.00" y2="546.74" stroke="#231f20" stroke-width="1.1" />
<text x="226.60" y="549.64" textLength="8.79" lengthAdjust="spacingAndGlyphs" font-size="8.50">60</text>
<line x1="221.50" y1="523.02" x2="225.00" y2="523.02" stroke="#231f20" stroke-width="1.1" />
<text x="226.64" y="525.92" textLength="8.79" lengthAdjust="spacingAndGlyphs" font-size="8.50">80</text>
<line x1="40.60" y1="617.80" x2="40.60" y2="621.00" stroke="#231f20" stroke-width="1.1" />
<text x="38.34" y="630.10" textLength="4.49" lengthAdjust="spacingAndGlyphs" font-size="8.50">0</text>
<line x1="90.80" y1="617.80" x2="90.80" y2="621.00" stroke="#231f20" stroke-width="1.1" />
<text x="88.56" y="630.10" textLength="4.49" lengthAdjust="spacingAndGlyphs" font-size="8.50">5</text>
<line x1="141.00" y1="617.80" x2="141.00" y2="621.00" stroke="#231f20" stroke-width="1.1" />
<text x="136.36" y="630.10" textLength="8.98" lengthAdjust="spacingAndGlyphs" font-size="8.50">10</text>
<line x1="191.20" y1="617.80" x2="191.20" y2="621.00" stroke="#231f20" stroke-width="1.1" />
<text x="186.58" y="630.10" textLength="8.98" lengthAdjust="spacingAndGlyphs" font-size="8.50">15</text>
<text x="111.25" y="641.50" textLength="48.43" lengthAdjust="spacingAndGlyphs" font-size="8.70">Time (months)</text>
<text x="110.03" y="513.10" textLength="40.92" lengthAdjust="spacingAndGlyphs" font-size="9.40">Patient#1</text>
<text transform="translate(15.60,587.00) rotate(-90)" x="-0.36" y="0" textLength="38.14" lengthAdjust="spacingAndGlyphs" font-size="8.60">CRP (mg/L)</text>
<text transform="translate(241.60,545.60) rotate(90)" x="-0.53" y="0" textLength="46.79" lengthAdjust="spacingAndGlyphs" font-size="8.60">UBA1 VAF (%)</text>
<text x="72.14" y="578.40" textLength="26.88" lengthAdjust="spacingAndGlyphs" font-size="8.60">Del(7q)</text>
<text x="87.84" y="605.10" textLength="18.23" lengthAdjust="spacingAndGlyphs" font-size="8.00">8.9%</text>
<text x="170.04" y="570.80" textLength="15.85" lengthAdjust="spacingAndGlyphs" font-size="8.00">44%</text>
<text x="180.21" y="590.20" textLength="20.67" lengthAdjust="spacingAndGlyphs" font-size="8.00">UBA1</text>
<text x="183.40" y="545.60" textLength="22.89" lengthAdjust="spacingAndGlyphs" font-size="8.00">60.4%</text>
<path d="M40.1,676.5 V667.0 H122.0 V657.0 H159.5 V648.0 H220.75 V676.5 Z" stroke="none" fill="#78cb84" stroke-width="1.0" />
<text x="41.69" y="674.20" textLength="29.97" lengthAdjust="spacingAndGlyphs" font-size="7.30">10 mg/bid</text>
<text x="121.98" y="665.40" textLength="30.48" lengthAdjust="spacingAndGlyphs" font-size="7.30">15 mg/bid</text>
<text x="160.91" y="654.90" textLength="30.05" lengthAdjust="spacingAndGlyphs" font-size="7.30">20 mg/bid</text>
<text x="189.47" y="673.70" textLength="30.82" lengthAdjust="spacingAndGlyphs" font-size="7.30">Ruxolitinib</text>
<line x1="31.00" y1="682.40" x2="214.00" y2="682.40" stroke="#231f20" stroke-width="1.3" />
<path d="M212.0,678.7 L221.3,682.4 L212.0,686.1 Z" stroke="none" fill="#111" stroke-width="1.0" />
<line x1="31.00" y1="679.20" x2="31.00" y2="685.60" stroke="#231f20" stroke-width="1.2" />
<line x1="64.80" y1="682.40" x2="64.80" y2="685.60" stroke="#231f20" stroke-width="1.1" />
<line x1="137.00" y1="682.40" x2="137.00" y2="685.60" stroke="#231f20" stroke-width="1.1" />
<text x="27.65" y="695.00" textLength="39.57" lengthAdjust="spacingAndGlyphs" font-size="8.30">Transfusion</text>
<text x="25.03" y="704.30" textLength="44.12" lengthAdjust="spacingAndGlyphs" font-size="8.30">dependency</text>
<text x="84.00" y="695.00" textLength="39.57" lengthAdjust="spacingAndGlyphs" font-size="8.30">Transfusion</text>
<text x="97.08" y="704.30" textLength="13.30" lengthAdjust="spacingAndGlyphs" font-size="8.30">free</text>
<text x="162.90" y="695.00" textLength="39.57" lengthAdjust="spacingAndGlyphs" font-size="8.30">Transfusion</text>
<text x="160.28" y="704.30" textLength="44.12" lengthAdjust="spacingAndGlyphs" font-size="8.30">dependency</text>
<path d="M294.2,617.8 L294.20,588.80 C299.50,588.65 315.37,588.63 326.00,587.90 C336.63,587.17 349.53,586.43 358.00,584.40 C366.47,582.37 370.85,579.12 376.80,575.70 C382.75,572.28 388.08,568.95 393.70,563.90 C399.32,558.85 404.88,550.60 410.50,545.40 C416.12,540.20 421.65,535.58 427.40,532.70 C433.15,529.82 438.73,529.38 445.00,528.10 C451.27,526.82 458.27,525.72 465.00,525.00 C471.73,524.28 482.00,524.00 485.40,523.80 L485.4,617.8 Z" stroke="none" fill="#89a8c3" stroke-width="1.0" />
<path d="M297.5,553.0 C320,553.0 350,555.5 395.8,560.2 C350,565.0 320,569.3 297.5,569.3 Q294.4,569.3 294.4,566 V556.3 Q294.4,553.0 297.5,553.0 Z" stroke="none" fill="#fcc680" stroke-width="1.0" />
<line x1="326.20" y1="588.00" x2="326.20" y2="617.80" stroke="#111" stroke-width="1.2" stroke-dasharray="2,2.75"/>
<line x1="416.60" y1="539.50" x2="416.60" y2="617.80" stroke="#111" stroke-width="1.2" stroke-dasharray="2,2.75"/>
<line x1="444.60" y1="529.00" x2="444.60" y2="617.80" stroke="#111" stroke-width="1.2" stroke-dasharray="2,2.75"/>
<line x1="468.50" y1="525.20" x2="468.50" y2="617.80" stroke="#111" stroke-width="1.2" stroke-dasharray="2,2.75"/>
<path d="M294.0,605.2 L326.2,598.8 L358.5,583.8" stroke="#53206f" fill="none" stroke-width="1.15" stroke-linejoin="round"/>
<circle cx="294.00" cy="605.20" r="1.8" fill="#53206f"/>
<circle cx="326.20" cy="598.80" r="1.8" fill="#53206f"/>
<circle cx="358.50" cy="583.80" r="1.8" fill="#53206f"/>
<path d="M365.8,604.6 L377.7,586.3 L383.6,578.2 L389.5,585.5 L395.7,589.2 L401.3,555.5 L407.7,586.6 L413.6,575.2 L419.5,583.6 L425.5,557.3 L431.5,602.5 L437.4,603.2 L443.5,598.7 L449.2,561.3 L455.2,593.1 L461.3,605.0 L467.5,603.3 L473.5,602.5" stroke="#53206f" fill="none" stroke-width="1.15" stroke-linejoin="round"/>
<circle cx="365.80" cy="604.60" r="1.8" fill="#53206f"/>
<circle cx="377.70" cy="586.30" r="1.8" fill="#53206f"/>
<circle cx="383.60" cy="578.20" r="1.8" fill="#53206f"/>
<circle cx="389.50" cy="585.50" r="1.8" fill="#53206f"/>
<circle cx="395.70" cy="589.20" r="1.8" fill="#53206f"/>
<circle cx="401.30" cy="555.50" r="1.8" fill="#53206f"/>
<circle cx="407.70" cy="586.60" r="1.8" fill="#53206f"/>
<circle cx="413.60" cy="575.20" r="1.8" fill="#53206f"/>
<circle cx="419.50" cy="583.60" r="1.8" fill="#53206f"/>
<circle cx="425.50" cy="557.30" r="1.8" fill="#53206f"/>
<circle cx="431.50" cy="602.50" r="1.8" fill="#53206f"/>
<circle cx="437.40" cy="603.20" r="1.8" fill="#53206f"/>
<circle cx="443.50" cy="598.70" r="1.8" fill="#53206f"/>
<circle cx="449.20" cy="561.30" r="1.8" fill="#53206f"/>
<circle cx="455.20" cy="593.10" r="1.8" fill="#53206f"/>
<circle cx="461.30" cy="605.00" r="1.8" fill="#53206f"/>
<circle cx="467.50" cy="603.30" r="1.8" fill="#53206f"/>
<circle cx="473.50" cy="602.50" r="1.8" fill="#53206f"/>
<line x1="294.20" y1="519.40" x2="294.20" y2="618.50" stroke="#231f20" stroke-width="1.3" />
<line x1="485.40" y1="519.50" x2="485.40" y2="618.50" stroke="#231f20" stroke-width="1.3" />
<line x1="293.60" y1="617.80" x2="486.00" y2="617.80" stroke="#231f20" stroke-width="1.5" />
<line x1="290.50" y1="618.10" x2="294.20" y2="618.10" stroke="#231f20" stroke-width="1.1" />
<text x="284.09" y="621.00" textLength="4.40" lengthAdjust="spacingAndGlyphs" font-size="8.50">0</text>
<line x1="290.50" y1="602.26" x2="294.20" y2="602.26" stroke="#231f20" stroke-width="1.1" />
<text x="279.74" y="605.16" textLength="8.79" lengthAdjust="spacingAndGlyphs" font-size="8.50">25</text>
<line x1="290.50" y1="586.42" x2="294.20" y2="586.42" stroke="#231f20" stroke-width="1.1" />
<text x="279.70" y="589.32" textLength="8.79" lengthAdjust="spacingAndGlyphs" font-size="8.50">50</text>
<line x1="290.50" y1="570.58" x2="294.20" y2="570.58" stroke="#231f20" stroke-width="1.1" />
<text x="279.74" y="573.48" textLength="8.79" lengthAdjust="spacingAndGlyphs" font-size="8.50">75</text>
<line x1="290.50" y1="554.74" x2="294.20" y2="554.74" stroke="#231f20" stroke-width="1.1" />
<text x="275.31" y="557.64" textLength="13.19" lengthAdjust="spacingAndGlyphs" font-size="8.50">100</text>
<line x1="290.50" y1="538.90" x2="294.20" y2="538.90" stroke="#231f20" stroke-width="1.1" />
<text x="275.35" y="541.80" textLength="13.19" lengthAdjust="spacingAndGlyphs" font-size="8.50">125</text>
<line x1="290.50" y1="523.06" x2="294.20" y2="523.06" stroke="#231f20" stroke-width="1.1" />
<text x="275.31" y="525.96" textLength="13.19" lengthAdjust="spacingAndGlyphs" font-size="8.50">150</text>
<line x1="485.40" y1="618.10" x2="488.90" y2="618.10" stroke="#231f20" stroke-width="1.1" />
<text x="490.48" y="621.00" textLength="4.40" lengthAdjust="spacingAndGlyphs" font-size="8.50">0</text>
<line x1="485.40" y1="594.50" x2="488.90" y2="594.50" stroke="#231f20" stroke-width="1.1" />
<text x="490.40" y="597.40" textLength="8.79" lengthAdjust="spacingAndGlyphs" font-size="8.50">20</text>
<line x1="485.40" y1="570.90" x2="488.90" y2="570.90" stroke="#231f20" stroke-width="1.1" />
<text x="490.64" y="573.80" textLength="8.79" lengthAdjust="spacingAndGlyphs" font-size="8.50">40</text>
<line x1="485.40" y1="547.30" x2="488.90" y2="547.30" stroke="#231f20" stroke-width="1.1" />
<text x="490.40" y="550.20" textLength="8.79" lengthAdjust="spacingAndGlyphs" font-size="8.50">60</text>
<line x1="485.40" y1="523.70" x2="488.90" y2="523.70" stroke="#231f20" stroke-width="1.1" />
<text x="490.44" y="526.60" textLength="8.79" lengthAdjust="spacingAndGlyphs" font-size="8.50">80</text>
<line x1="294.20" y1="617.80" x2="294.20" y2="621.00" stroke="#231f20" stroke-width="1.1" />
<line x1="326.20" y1="617.80" x2="326.20" y2="621.00" stroke="#231f20" stroke-width="1.1" />
<line x1="358.50" y1="614.60" x2="358.50" y2="620.80" stroke="#231f20" stroke-width="1.2" />
<line x1="365.80" y1="614.60" x2="365.80" y2="620.80" stroke="#231f20" stroke-width="1.2" />
<line x1="395.90" y1="617.80" x2="395.90" y2="621.00" stroke="#231f20" stroke-width="1.1" />
<line x1="425.30" y1="617.80" x2="425.30" y2="621.00" stroke="#231f20" stroke-width="1.1" />
<line x1="455.20" y1="617.80" x2="455.20" y2="621.00" stroke="#231f20" stroke-width="1.1" />
<line x1="485.40" y1="617.80" x2="485.40" y2="621.00" stroke="#231f20" stroke-width="1.1" />
<text x="291.94" y="630.10" textLength="4.49" lengthAdjust="spacingAndGlyphs" font-size="8.50">0</text>
<text x="323.84" y="630.10" textLength="4.49" lengthAdjust="spacingAndGlyphs" font-size="8.50">1</text>
<text x="355.66" y="630.10" textLength="4.49" lengthAdjust="spacingAndGlyphs" font-size="8.50">2</text>
<text x="362.45" y="630.10" textLength="11.23" lengthAdjust="spacingAndGlyphs" font-size="8.50">4.0</text>
<text x="390.37" y="630.10" textLength="11.23" lengthAdjust="spacingAndGlyphs" font-size="8.50">4.5</text>
<text x="419.67" y="630.10" textLength="11.23" lengthAdjust="spacingAndGlyphs" font-size="8.50">5.0</text>
<text x="449.59" y="630.10" textLength="11.23" lengthAdjust="spacingAndGlyphs" font-size="8.50">5.5</text>
<text x="479.73" y="630.10" textLength="11.23" lengthAdjust="spacingAndGlyphs" font-size="8.50">6.0</text>
<text x="369.96" y="641.50" textLength="40.41" lengthAdjust="spacingAndGlyphs" font-size="8.70">Time (years)</text>
<text x="369.38" y="513.10" textLength="40.87" lengthAdjust="spacingAndGlyphs" font-size="9.40">Patient#3</text>
<text transform="translate(269.50,587.20) rotate(-90)" x="-0.37" y="0" textLength="38.65" lengthAdjust="spacingAndGlyphs" font-size="8.60">CRP (mg/L)</text>
<text transform="translate(506.30,545.60) rotate(90)" x="-0.53" y="0" textLength="46.79" lengthAdjust="spacingAndGlyphs" font-size="8.60">UBA1 VAF (%)</text>
<text x="303.68" y="564.70" textLength="19.53" lengthAdjust="spacingAndGlyphs" font-size="8.40">JAK2</text>
<text x="315.29" y="584.70" textLength="22.29" lengthAdjust="spacingAndGlyphs" font-size="8.00">32.3%</text>
<text x="403.71" y="534.70" textLength="22.27" lengthAdjust="spacingAndGlyphs" font-size="8.00">71.7%</text>
<text x="437.32" y="525.10" textLength="15.26" lengthAdjust="spacingAndGlyphs" font-size="8.00">79%</text>
<text x="457.15" y="521.30" textLength="21.82" lengthAdjust="spacingAndGlyphs" font-size="8.00">82.2%</text>
<text x="446.29" y="547.60" textLength="21.19" lengthAdjust="spacingAndGlyphs" font-size="8.00">UBA1</text>
<path d="M418.3,676.5 V667.5 H451.9 V657.3 H485.0 V676.5 Z" stroke="none" fill="#78cb84" stroke-width="1.0" />
<text x="420.52" y="674.10" textLength="27.04" lengthAdjust="spacingAndGlyphs" font-size="7.30">5 mg/bid</text>
<text x="453.68" y="665.10" textLength="30.48" lengthAdjust="spacingAndGlyphs" font-size="7.30">10 mg/bid</text>
<line x1="293.50" y1="681.90" x2="479.50" y2="681.90" stroke="#231f20" stroke-width="1.3" />
<path d="M478.8,678.2 L485.2,681.9 L478.8,685.6 Z" stroke="none" fill="#111" stroke-width="1.0" />
<line x1="293.50" y1="678.70" x2="293.50" y2="685.10" stroke="#231f20" stroke-width="1.2" />
<line x1="443.30" y1="681.90" x2="443.30" y2="685.10" stroke="#231f20" stroke-width="1.1" />
<text x="345.80" y="695.00" textLength="39.57" lengthAdjust="spacingAndGlyphs" font-size="8.30">Transfusion</text>
<text x="358.88" y="704.30" textLength="13.30" lengthAdjust="spacingAndGlyphs" font-size="8.30">free</text>
<text x="444.80" y="695.00" textLength="39.57" lengthAdjust="spacingAndGlyphs" font-size="8.30">Transfusion</text>
<text x="442.18" y="704.30" textLength="44.12" lengthAdjust="spacingAndGlyphs" font-size="8.30">dependency</text>
<rect x="0" y="0" width="520" height="1.3" fill="#000"/>
<rect x="0" y="0" width="1.4" height="712" fill="#000"/>
<rect x="518.5" y="0" width="1.5" height="712" fill="#000"/>
<rect x="0" y="710.2" width="520" height="1.8" fill="#000"/>
</svg>
</body></html>
